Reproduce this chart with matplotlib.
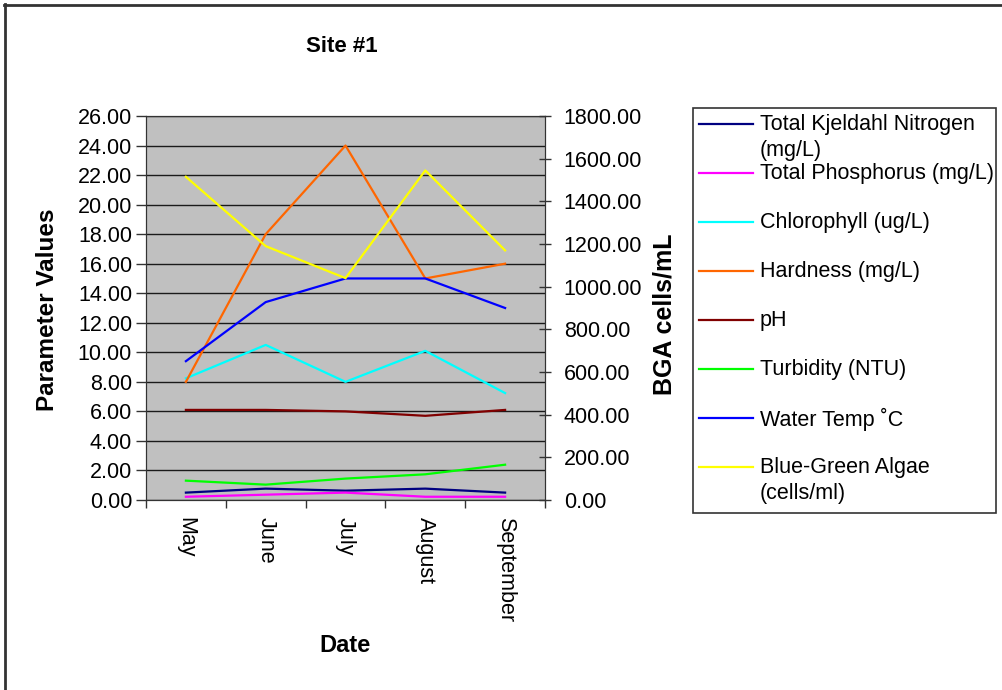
"""Site #1 water quality parameters with BGA counts on a secondary axis."""

import matplotlib

matplotlib.use("Agg")
import matplotlib.pyplot as plt  # noqa: E402
from matplotlib.lines import Line2D  # noqa: E402
from matplotlib.patches import Rectangle  # noqa: E402
from matplotlib.ticker import FormatStrFormatter, MultipleLocator  # noqa: E402

plt.rcParams["font.family"] = ["Liberation Sans", "DejaVu Sans"]

months = ["May", "June", "July", "August", "September"]

tkn = [0.50, 0.77, 0.63, 0.77, 0.50]
phosphorus = [0.22, 0.36, 0.50, 0.22, 0.22]
chlorophyll = [8.24, 10.5, 8.0, 10.1, 7.24]
hardness = [8.0, 18.0, 24.0, 15.0, 16.0]
ph = [6.1, 6.1, 6.0, 5.7, 6.1]
turbidity = [1.31, 1.04, 1.45, 1.74, 2.39]
water_temp = [9.4, 13.4, 15.0, 15.0, 13.0]
bga = [1515, 1190, 1040, 1545, 1170]  # right axis, cells/mL

left_series = [
    ("Total Kjeldahl Nitrogen\n(mg/L)", tkn, "#000080"),
    ("Total Phosphorus (mg/L)", phosphorus, "#FF00FF"),
    ("Chlorophyll (ug/L)", chlorophyll, "#00FFFF"),
    ("Hardness (mg/L)", hardness, "#FF6600"),
    ("pH", ph, "#800000"),
    ("Turbidity (NTU)", turbidity, "#00FF00"),
    ("Water Temp \u02daC", water_temp, "#0000FF"),
]
right_series = ("Blue-Green Algae\n(cells/ml)", bga, "#FFFF00")

W, H = 1002, 690
TICK_FS = 15.5


def fx(px):
    return px / W


def fy(py):
    return 1 - py / H


fig = plt.figure(figsize=(W / 100, H / 100), dpi=100)
ax = fig.add_axes([fx(146), fy(500), fx(545) - fx(146), fy(116) - fy(500)])
ax.set_facecolor("#C0C0C0")

x = range(len(months))
for label, vals, color in left_series:
    ax.plot(x, vals, color=color, lw=1.6)

ax.set_xlim(-0.5, len(months) - 0.5)
ax.set_ylim(0, 26)
ax.yaxis.set_major_locator(MultipleLocator(2))
ax.yaxis.set_major_formatter(FormatStrFormatter("%.2f"))
ax.yaxis.grid(True, color="#1a1a1a", lw=1.0)
ax.set_axisbelow(True)
ax.set_xticks(list(x), months, rotation=270, fontsize=TICK_FS)
ax.set_xticks([i + 0.5 for i in range(-1, len(months))], minor=True)
ax.tick_params(axis="x", which="major", length=0, pad=12)
ax.tick_params(axis="x", which="minor", length=6, width=1, color="#333333")
ax.tick_params(axis="y", labelsize=TICK_FS, length=7, width=1, color="#333333", pad=3)
for s in ax.spines.values():
    s.set_color("#333333")

ax2 = ax.twinx()
label, vals, color = right_series
ax2.plot(x, vals, color=color, lw=1.6)
ax2.set_ylim(0, 1800)
ax2.yaxis.set_major_locator(MultipleLocator(200))
ax2.yaxis.set_major_formatter(FormatStrFormatter("%.2f"))
ax2.tick_params(axis="y", labelsize=TICK_FS, length=9, width=1, direction="inout",
                color="#333333", pad=9)
for s in ax2.spines.values():
    s.set_color("#333333")

fig.text(fx(342), fy(47), "Site #1", fontsize=16, fontweight="bold",
         ha="center", va="center")
fig.text(fx(48), fy(310), "Parameter Values", fontsize=17.5, fontweight="bold",
         rotation=90, ha="center", va="center")
fig.text(fx(664), fy(314), "BGA cells/mL", fontsize=18, fontweight="bold",
         rotation=90, ha="center", va="center")
fig.text(fx(345), fy(645), "Date", fontsize=17, fontweight="bold",
         ha="center", va="center")

# Excel-style legend box on the right, wrapped labels overlap like the original
fig.patches.append(Rectangle((fx(693), fy(513)), fx(996) - fx(693), fy(108) - fy(513),
                             transform=fig.transFigure, facecolor="white",
                             edgecolor="#333333", lw=1.2))
entries = left_series + [right_series]
for i, (label, _, color) in enumerate(entries):
    yy = 124 + i * 49
    fig.lines.append(Line2D([fx(699), fx(753)], [fy(yy), fy(yy)],
                            transform=fig.transFigure, color=color, lw=1.6))
    fig.text(fx(760), fy(yy - 10), label, fontsize=15.5, ha="left", va="top",
             linespacing=1.3)

# outer chart frame (only top and left edges visible in the original)
fig.lines.append(Line2D([fx(5), fx(5)], [fy(4), 0], transform=fig.transFigure,
                        color="#333333", lw=2))
fig.lines.append(Line2D([fx(4), 1], [fy(5), fy(5)], transform=fig.transFigure,
                        color="#333333", lw=2))

fig.savefig("out.png", dpi=100)
